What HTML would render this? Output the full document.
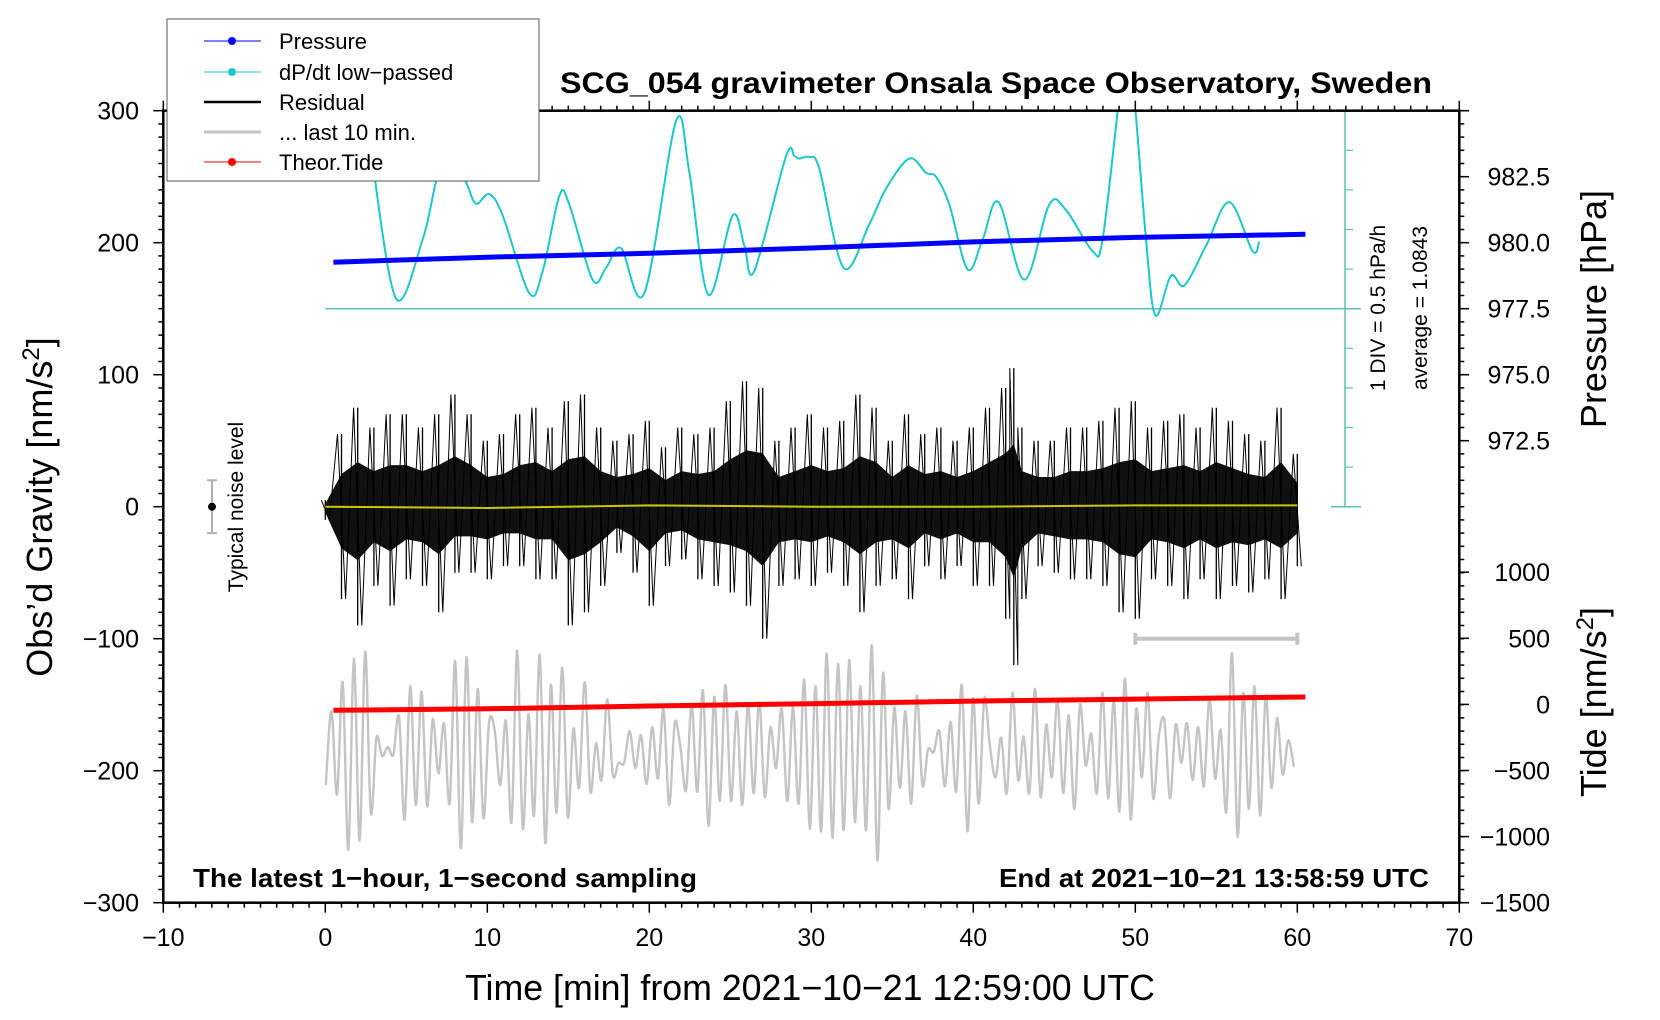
<!DOCTYPE html>
<html><head><meta charset="utf-8"><style>
html,body{margin:0;padding:0;background:#fff;}
svg{display:block;font-family:"Liberation Sans",sans-serif;}
</style></head><body>
<svg id="chart" width="1660" height="1020" viewBox="0 0 1660 1020" xmlns="http://www.w3.org/2000/svg">
<defs><clipPath id="plotclip"><rect x="163" y="110" width="1297" height="793"/></clipPath></defs>
<g id="series" clip-path="url(#plotclip)"></g>
<g id="axes"></g>
<g id="legend"></g>
<g id="texts"></g>
</svg>
<script>
// ---- data ----
const presT = [0.5, 10, 20, 30, 40, 50, 60.5];
const presHPa = [979.26, 979.45, 979.6, 979.8, 980.03, 980.2, 980.32];
const tideT = [0.5, 10, 20, 30, 40, 50, 60.5];
const tideNm = [-45, -33, -12, 5, 25, 40, 56];
const dpdtT = [2.9,4.37,6.01,6.83,7.6,8.69,9.3,10.12,10.95,12.59,13.41,14.45,15.06,16.5,17.33,18.25,19.69,21.65,22.47,23.64,25.14,25.87,26.48,28.44,28.95,29.26,29.88,30.5,32.0,33.6,34.61,36.05,37.08,37.7,38.52,39.65,40.58,41.56,43.15,44.69,45.72,47.37,47.98,49.01,49.5,49.94,50.66,51.24,52.2,53.03,54.37,55.8,57.24,57.65];
const dpdtVal = [2.95,1.21,1.96,2.68,3.16,2.68,2.41,2.53,2.26,1.28,1.55,2.51,2.40,1.45,1.60,1.85,1.28,3.45,2.81,1.26,2.26,1.88,1.56,3.01,3.01,2.98,3.00,2.85,1.60,2.16,2.60,2.98,2.80,2.75,2.40,1.58,1.96,2.43,1.45,2.40,2.33,1.81,1.96,3.75,4.41,3.75,1.96,1.00,1.50,1.38,1.88,2.43,1.81,1.93];
const dpdtAvg = 1.0843;
const resT = [0,1,2,3,4,5,6,7,8,9,10,11,12,13,14,15,16,17,18,19,20,21,22,23,24,25,26,27,28,29,30,31,32,33,34,35,36,37,38,39,40,41,42,42.5,43,44,45,46,47,48,49,50,51,52,53,54,55,56,57,58,59,60];
const resHi = [5,55,75,60,70,70,60,70,85,70,50,55,70,75,60,80,85,60,50,55,65,45,60,55,60,80,95,90,50,60,70,60,65,85,75,50,70,55,60,50,60,75,90,105,60,50,50,60,60,65,75,80,60,65,70,60,75,65,55,50,75,40];
const resLo = [-10,-70,-90,-60,-75,-55,-60,-80,-50,-50,-55,-45,-45,-55,-55,-90,-80,-60,-35,-50,-75,-45,-40,-55,-60,-65,-75,-100,-60,-55,-60,-50,-60,-80,-60,-55,-70,-45,-55,-45,-60,-60,-85,-120,-70,-45,-50,-55,-55,-60,-80,-85,-55,-60,-70,-55,-70,-60,-65,-55,-70,-45];
const yelT = [0, 10, 20, 30, 40, 50, 60];
const yelVal = [0, -1, 1, 0, 0, 1, 1];
const grayStart = 0.03, grayEnd = 59.79;
const grayVal = [-211,-155,-218,-133,-260,-115,-253,-110,-232,-175,-189,-182,-188,-159,-237,-136,-226,-140,-227,-161,-202,-164,-225,-117,-259,-114,-239,-138,-236,-164,-169,-211,-162,-239,-109,-244,-157,-234,-112,-255,-135,-232,-122,-235,-168,-213,-133,-216,-179,-207,-146,-203,-194,-194,-170,-198,-173,-210,-167,-206,-153,-226,-164,-182,-215,-150,-216,-139,-242,-144,-223,-135,-223,-155,-226,-149,-217,-148,-220,-167,-198,-153,-223,-152,-225,-131,-244,-136,-246,-111,-251,
-119,-245,-116,-239,-136,-245,-105,-268,-126,-229,-152,-213,
-155,-225,-143,-211,-184,-186,-170,-212,-163,-216,-135,-246,-145,-225,-145,-182,-205,-175,-217,-141,-207,-174,-217,-138,-220,-165,-205,-146,-217,-158,-229,-150,-196,-172,-217,-141,-221,-146,-231,-130,-237,-153,-205,-141,-221,-174,-162,-221,-165,-194,-164,-207,-167,-212,-145,-206,-169,-231,-111,-250,-141,-229,-136,-234,-143,-213,-160,-203,-177,-197];
const xTicks = [-10,0,10,20,30,40,50,60,70];
const yTicks = [300,200,100,0,-100,-200,-300];
const presTicks = [982.5,980.0,977.5,975.0,972.5];
const tideTicks = [1000,500,0,-500,-1000,-1500];

// ---- scales ----
const X = t => 163.3 + (t + 10) * 16.2;
const Y = g => 110.7 + (300 - g) * 1.32;
const YP = p => 110.7 + (985 - p) * 26.4;
const YT = v => 902.7 - (v + 1500) * 0.1322;
const YD = v => Y(150 + (v - dpdtAvg) * 60);

const NS = "http://www.w3.org/2000/svg";
function mk(tag, parent, attrs){ const e=document.createElementNS(NS,tag); for(const k in attrs) e.setAttribute(k,attrs[k]); parent.appendChild(e); return e; }
function smooth(pts){
  let d = `M${pts[0][0].toFixed(1)},${pts[0][1].toFixed(1)}`;
  for(let i=0;i<pts.length-1;i++){
    const p0=pts[Math.max(0,i-1)],p1=pts[i],p2=pts[i+1],p3=pts[Math.min(pts.length-1,i+2)];
    const c1x=p1[0]+(p2[0]-p0[0])/6,c1y=p1[1]+(p2[1]-p0[1])/6,c2x=p2[0]-(p3[0]-p1[0])/6,c2y=p2[1]-(p3[1]-p1[1])/6;
    d+=`C${c1x.toFixed(1)},${c1y.toFixed(1)} ${c2x.toFixed(1)},${c2y.toFixed(1)} ${p2[0].toFixed(1)},${p2[1].toFixed(1)}`;
  }
  return d;
}
const gS = document.getElementById('series');
const gA = document.getElementById('axes');
const gL = document.getElementById('legend');
const gT = document.getElementById('texts');

// gray last 10 min
const gp = grayVal.map((v,i)=>[X(grayStart + i*(grayEnd-grayStart)/(grayVal.length-1)), Y(v)]);
const gray = mk('path', gS, {d: smooth(gp), fill:'none', stroke:'#c4c4c4', 'stroke-width':2.4});



// residual
const upperPts=[], lowerPts=[];
resT.forEach((t,i)=>{ upperPts.push(`${X(t).toFixed(1)},${Y(resHi[i]*0.45).toFixed(1)}`); lowerPts.unshift(`${X(t).toFixed(1)},${Y(resLo[i]*0.45).toFixed(1)}`); });
const resCore = mk('polygon', gS, {points: upperPts.concat(lowerPts).join(' '), fill:'#111'});


const zz = [];
resT.forEach((t,i)=>{ zz.push(`${X(t-0.25).toFixed(1)},${Y(resHi[i]).toFixed(1)}`); zz.push(`${X(t+0.25).toFixed(1)},${Y(resLo[i]).toFixed(1)}`); });
const resLine = mk('polyline', gS, {points: zz.join(' '), fill:'none', stroke:'#000', 'stroke-width':1});


resT.forEach((t,i)=>{
  const v = mk('line', gS, {x1:X(t), x2:X(t), y1:Y(resHi[i]), y2:Y(resLo[i]), stroke:'#000', 'stroke-width':1.3});
  
  
});
const yel = mk('polyline', gS, {points: yelT.map((t,i)=>`${X(t)},${Y(yelVal[i])}`).join(' '), fill:'none', stroke:'#c8c800', 'stroke-width':2});



// tide
const tide = mk('polyline', gS, {points: tideT.map((t,i)=>`${X(t).toFixed(1)},${YT(tideNm[i]).toFixed(1)}`).join(' '), fill:'none', stroke:'#ff0000', 'stroke-width':5});



// dp/dt baseline and curve
const base = mk('line', gS, {x1:X(0), x2:1361, y1:Y(150), y2:Y(150), stroke:'#5fbfba', 'stroke-width':1.5});


const dp = mk('path', gS, {d: smooth(dpdtT.map((t,i)=>[X(t),YD(dpdtVal[i])])), fill:'none', stroke:'#1cc8c8', 'stroke-width':2});



// pressure
const pres = mk('polyline', gS, {points: presT.map((t,i)=>`${X(t).toFixed(1)},${YP(presHPa[i]).toFixed(1)}`).join(' '), fill:'none', stroke:'#0000ff', 'stroke-width':5});



// dp/dt scale bar
const sc = mk('line', gA, {x1:1345, x2:1345, y1:Y(300), y2:Y(0), stroke:'#5fbfba', 'stroke-width':1.5});


for(let g=30; g<300; g+=30){ mk('line', gA, {x1:1345, x2:1353, y1:Y(g), y2:Y(g), stroke:'#5fbfba','stroke-width':1.2}); }
mk('line', gA, {x1:1331, x2:1361, y1:Y(0), y2:Y(0), stroke:'#5fbfba','stroke-width':1.5});

// last-10-min indicator
const ind = mk('path', gS, {d:`M${X(50)},${Y(-100)}H${X(60)}M${X(50)},${Y(-100)-6}V${Y(-100)+6}M${X(60)},${Y(-100)-6}V${Y(-100)+6}`, stroke:'#c4c4c4','stroke-width':4, fill:'none'});



// noise level
const nb = mk('path', gA, {d:`M212,${Y(20)}V${Y(-20)}M207,${Y(20)}H217M207,${Y(-20)}H217`, stroke:'#b0b0b0','stroke-width':2, fill:'none'});


mk('circle', gA, {cx:212, cy:Y(0), r:4, fill:'#000'});

// frame
const fr = mk('rect', gA, {x:163.3, y:110.7, width:1296, height:792, fill:'none', stroke:'#000', 'stroke-width':2.5});


for(let t=-10;t<=70;t++){
  const maj = t%10===0, len = maj?10:5;
  mk('line', gA, {x1:X(t),x2:X(t),y1:902.7,y2:902.7+len,stroke:'#000','stroke-width':1.5});
  mk('line', gA, {x1:X(t),x2:X(t),y1:110.7,y2:110.7-len,stroke:'#000','stroke-width':1.5});
}
for(let g=-300; g<=300; g+=10){
  const maj = g%100===0;
  mk('line', gA, {x1:163.3-(maj?10:5),x2:163.3,y1:Y(g),y2:Y(g),stroke:'#000','stroke-width':1.5});
  mk('line', gA, {x1:1459.3,x2:1459.3+5,y1:Y(g),y2:Y(g),stroke:'#000','stroke-width':1.5});
}
presTicks.concat([985]).forEach(p=>mk('line', gA, {x1:1459.3,x2:1469,y1:YP(p),y2:YP(p),stroke:'#000','stroke-width':1.5}));
tideTicks.forEach(v=>mk('line', gA, {x1:1459.3,x2:1469,y1:YT(v),y2:YT(v),stroke:'#000','stroke-width':1.5}));

const fmt = v => (v<0?'\u2212':'') + Math.abs(v);
xTicks.forEach(t=>{
  const e = mk('text', gA, {x:X(t), y:946, 'font-size':25, 'text-anchor':'middle'});
  e.textContent = fmt(t);
  
  
});
yTicks.forEach(g=>{
  const e = mk('text', gA, {x:139, y:Y(g)+9, 'font-size':25, 'text-anchor':'end'});
  e.textContent = fmt(g);
  
  
});
presTicks.forEach(p=>{
  const e = mk('text', gA, {x:1550, y:YP(p)+9, 'font-size':25, 'text-anchor':'end'});
  e.textContent = p.toFixed(1);
  
  
});
tideTicks.forEach(v=>{
  const e = mk('text', gA, {x:1550, y:YT(v)+9, 'font-size':25, 'text-anchor':'end'});
  e.textContent = fmt(v);
  
  
});

// legend
const lb = mk('rect', gL, {x:167, y:19, width:372, height:162, fill:'#fff', stroke:'#555', 'stroke-width':1});


const legItems = [['Pressure','#0000ff',1,true],['dP/dt low\u2212passed','#1cc8c8',1,true],['Residual','#000',2.5,false],['... last 10 min.','#c4c4c4',3,false],['Theor.Tide','#ff0000',1,true]];
const legY = [41,72,102,132,162];
legItems.forEach((it,i)=>{
  const g = mk('g', gL, {});
  
  
  mk('line', g, {x1:204,x2:261,y1:legY[i],y2:legY[i],stroke:it[1],'stroke-width':it[2]});
  if(it[3]) mk('circle', g, {cx:232, cy:legY[i], r:4, fill:it[1]});
  const tx = mk('text', g, {x:279, y:legY[i]+8, 'font-size':22});
  tx.textContent = it[0];
});

// texts
function txt(s, attrs, name){
  const e = mk('text', gT, attrs);
  e.textContent = s;
  
  
  return e;
}
function sup(e){ const s = mk('tspan', e, {dy:-13, 'font-size':24}); s.textContent='2'; const b = mk('tspan', e, {dy:13}); b.textContent=']'; }
txt('SCG_054 gravimeter Onsala Space Observatory, Sweden', {x:560, y:93, 'font-size':30, 'font-weight':'bold', textLength:872, lengthAdjust:'spacingAndGlyphs'}, 'chart-title');
txt('The latest 1\u2212hour, 1\u2212second sampling', {x:193, y:887, 'font-size':26, 'font-weight':'bold', textLength:504, lengthAdjust:'spacingAndGlyphs'}, 'sampling-note');
txt('End at 2021\u221210\u221221 13:58:59 UTC', {x:999, y:887, 'font-size':26, 'font-weight':'bold', textLength:430, lengthAdjust:'spacingAndGlyphs'}, 'end-time-note');
txt('Time [min] from 2021\u221210\u221221 12:59:00 UTC', {x:465, y:1000, 'font-size':36, textLength:690, lengthAdjust:'spacingAndGlyphs'}, 'x-axis-title');
const ly = txt('Obs\u2019d Gravity [nm/s', {transform:'translate(52,507) rotate(-90)', 'font-size':36, 'text-anchor':'middle'}, 'y-axis-title');
sup(ly);
txt('Pressure [hPa]', {transform:'translate(1606,309) rotate(-90)', 'font-size':36, 'text-anchor':'middle'}, 'pressure-axis-title');
const ty = txt('Tide [nm/s', {transform:'translate(1606,702) rotate(-90)', 'font-size':36, 'text-anchor':'middle'}, 'tide-axis-title');
sup(ty);
txt('Typical noise level', {transform:'translate(243,507) rotate(-90)', 'font-size':21, 'text-anchor':'middle'}, 'noise-level-label');
txt('1 DIV = 0.5 hPa/h', {transform:'translate(1385,308) rotate(-90)', 'font-size':21, 'text-anchor':'middle'}, 'dpdt-scale-label');
txt('average = 1.0843', {transform:'translate(1427,308) rotate(-90)', 'font-size':21, 'text-anchor':'middle'}, 'dpdt-average-label');
</script>
</body></html>
